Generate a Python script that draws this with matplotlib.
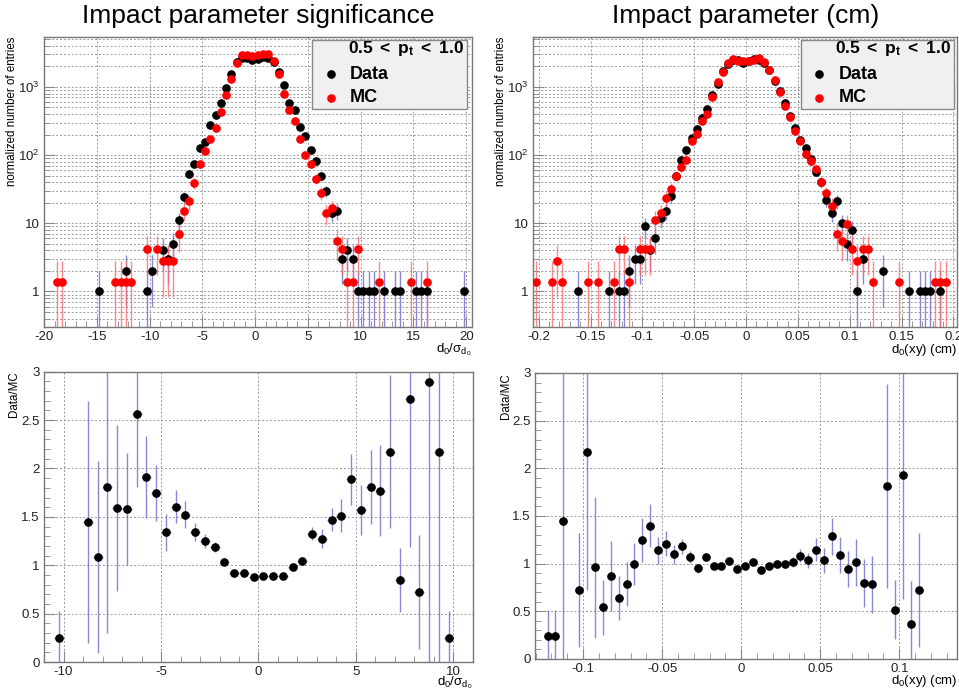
import numpy as np
import matplotlib
matplotlib.use('Agg')
import matplotlib.pyplot as plt
from matplotlib.ticker import MultipleLocator, FixedLocator, FixedFormatter, LogLocator, NullFormatter

plt.rcParams['font.family'] = ['Liberation Sans', 'DejaVu Sans']
plt.rcParams['mathtext.fontset'] = 'custom'
plt.rcParams['mathtext.rm'] = 'Liberation Sans'
plt.rcParams['mathtext.it'] = 'Liberation Sans'
plt.rcParams['mathtext.bf'] = 'Liberation Sans:bold'

# MC weight per entry (MC histogram scaled to data)
MC_W = 1.39

# --- d0 significance ---
sig_data_x = [-14.75, -12.25, -10.25, -9.75, -8.75, -8.25, -7.75, -7.25, -6.75, -6.25,
              -5.75, -5.25, -4.75, -4.25, -3.75, -3.25, -2.75, -2.25, -1.75, -1.25,
              -0.75, -0.25, 0.25, 0.75, 1.25, 1.75, 2.25, 2.75, 3.25, 3.75,
              4.25, 4.75, 5.25, 5.75, 6.25, 6.75, 7.25, 7.75, 8.25, 8.75,
              9.25, 9.75, 10.25, 10.75, 11.25, 12.25, 13.25, 13.75, 15.25, 15.75,
              16.25, 19.75]
sig_data_y = [1, 2, 1, 2, 4, 3, 5, 11, 24, 53,
              75, 129, 155, 279, 387, 575, 955, 1570, 2300, 2700,
              2675, 2490, 2595, 2755, 2700, 2337, 1664, 1059, 583, 455,
              259, 189, 120, 81, 50, 30, 14, 15, 3, 4,
              3, 1, 1, 1, 1, 1, 1, 1, 1, 1,
              1, 1]
sig_mc_x = [-18.75, -18.25, -13.25, -12.75, -12.25, -11.75, -10.25, -9.25, -8.75, -8.25,
            -7.75, -7.25, -6.75, -6.25, -5.75, -5.25, -4.75, -4.25, -3.75, -3.25,
            -2.75, -2.25, -1.75, -1.25, -0.75, -0.25, 0.25, 0.75, 1.25, 1.75,
            2.25, 2.75, 3.25, 3.75, 4.25, 4.75, 5.25, 5.75, 6.25, 6.75,
            7.25, 7.75, 8.25, 8.75, 9.25, 9.75, 11.75, 14.75, 16.25]
sig_mc_y = [1.39, 1.39, 1.39, 1.39, 1.39, 1.39, 4.17, 4.17, 2.78, 2.78,
            2.78, 6.95, 15.3, 21, 39, 75, 115, 175, 253, 430,
            755, 1312, 2280, 2923, 2923, 2850, 2923, 3090, 3020, 2385,
            1570, 800, 455, 313, 175, 99, 75, 45, 28, 13.9,
            16.7, 5.56, 4.17, 1.39, 1.39, 4.17, 1.39, 1.39, 1.39]

sig_ratio_x = [-10.25, -8.75, -8.25, -7.75, -7.25, -6.75, -6.25, -5.75, -5.25, -4.75,
               -4.25, -3.75, -3.25, -2.75, -2.25, -1.75, -1.25, -0.75, -0.25, 0.25,
               0.75, 1.25, 1.75, 2.25, 2.75, 3.25, 3.75, 4.25, 4.75, 5.25,
               5.75, 6.25, 6.75, 7.25, 7.75, 8.25, 8.75, 9.25, 9.75]
sig_ratio_y = [0.244, 1.448, 1.087, 1.81, 1.593, 1.579, 2.56, 1.913, 1.748, 1.342,
               1.603, 1.521, 1.342, 1.252, 1.187, 1.029, 0.915, 0.915, 0.874, 0.888,
               0.891, 0.894, 0.98, 1.046, 1.328, 1.276, 1.472, 1.514, 1.889, 1.569,
               1.81, 1.772, 2.171, 0.85, 2.714, 0.722, 2.893, 2.171, 0.244]
sig_ratio_err = [0.28, 1.25, 0.99, 1.51, 0.86, 0.58, 0.75, 0.42, 0.29, 0.19,
                 0.17, 0.14, 0.095, 0.07, 0.05, 0.03, 0.02, 0.02, 0.02, 0.02,
                 0.02, 0.02, 0.03, 0.04, 0.07, 0.095, 0.12, 0.17, 0.265, 0.26,
                 0.38, 0.47, 0.79, 0.33, 1.53, 0.59, 2.9, 2.2, 0.28]

# --- d0(xy) in cm ---
ip_data_x = [-0.1625, -0.1325, -0.1225, -0.1175, -0.1125, -0.1075, -0.1025, -0.0975, -0.0925, -0.0875,
             -0.0825, -0.0775, -0.0725, -0.0675, -0.0625, -0.0575, -0.0525, -0.0475, -0.0425, -0.0375,
             -0.0325, -0.0275, -0.0225, -0.0175, -0.0125, -0.0075, -0.0025, 0.0025, 0.0075, 0.0125,
             0.0175, 0.0225, 0.0275, 0.0325, 0.0375, 0.0425, 0.0475, 0.0525, 0.0575, 0.0625,
             0.0675, 0.0725, 0.0775, 0.0825, 0.0875, 0.0925, 0.0975, 0.1025, 0.1075, 0.1125,
             0.1325, 0.1575, 0.1675, 0.1725, 0.1775, 0.1875]
ip_data_y = [1, 1, 1, 1, 2, 3, 3, 9, 4, 6,
             12, 15, 25, 50, 84, 118, 180, 243, 351, 473,
             757, 1120, 1740, 2200, 2515, 2490, 2265, 2380, 2530, 2490,
             2250, 1743, 1240, 858, 573, 370, 251, 166, 129, 89,
             57, 40, 22, 14, 21, 10, 5, 8, 1, 3,
             2, 1, 1, 1, 1, 1]
ip_mc_x = [-0.2025, -0.1875, -0.1825, -0.1775, -0.1525, -0.1425, -0.1275, -0.1225, -0.1175, -0.1125,
           -0.1025, -0.0975, -0.0925, -0.0875, -0.0825, -0.0775, -0.0725, -0.0675, -0.0625, -0.0575,
           -0.0525, -0.0475, -0.0425, -0.0375, -0.0325, -0.0275, -0.0225, -0.0175, -0.0125, -0.0075,
           -0.0025, 0.0025, 0.0075, 0.0125, 0.0175, 0.0225, 0.0275, 0.0325, 0.0375, 0.0425,
           0.0475, 0.0525, 0.0575, 0.0625, 0.0675, 0.0725, 0.0775, 0.0825, 0.0875, 0.0925,
           0.0975, 0.1025, 0.1075, 0.1125, 0.1175, 0.1225, 0.1475, 0.1825, 0.1875, 0.1925]
ip_mc_y = [1.39, 1.39, 2.78, 1.39, 1.39, 1.39, 1.39, 4.17, 4.17, 1.39,
           4.17, 4.17, 4.17, 11.1, 13.9, 23.6, 32, 50, 66, 84,
           159, 203, 321, 401, 700, 1180, 1650, 2250, 2575, 2420,
           2385, 2433, 2500, 2660, 2306, 1743, 1248, 845, 530, 358,
           222, 161, 102, 81, 62, 40, 27.8, 18.1, 7.0, 5.56,
           9.7, 4.17, 2.78, 4.17, 4.17, 1.39, 1.39, 1.39, 1.39, 1.39]

ip_ratio_x = [-0.1225, -0.1175, -0.1125, -0.1025, -0.0975, -0.0925, -0.0875, -0.0825, -0.0775, -0.0725,
              -0.0675, -0.0625, -0.0575, -0.0525, -0.0475, -0.0425, -0.0375, -0.0325, -0.0275, -0.0225,
              -0.0175, -0.0125, -0.0075, -0.0025, 0.0025, 0.0075, 0.0125, 0.0175, 0.0225, 0.0275,
              0.0325, 0.0375, 0.0425, 0.0475, 0.0525, 0.0575, 0.0625, 0.0675, 0.0725, 0.0775,
              0.0825, 0.0925, 0.0975, 0.1025, 0.1075, 0.1125]
ip_ratio_y = [0.245, 0.245, 1.446, 0.725, 2.17, 0.963, 0.543, 0.872, 0.637, 0.784,
              0.994, 1.246, 1.397, 1.141, 1.211, 1.099, 1.18, 1.068, 0.952, 1.068,
              0.977, 0.977, 1.029, 0.949, 0.977, 1.012, 0.935, 0.977, 1.0, 0.994,
              1.015, 1.082, 1.033, 1.145, 1.033, 1.285, 1.092, 0.945, 1.012, 0.80,
              0.784, 1.81, 0.518, 1.93, 0.368, 0.725]
ip_ratio_err = [0.27, 0.27, 1.6, 0.6, 1.45, 0.74, 0.29, 0.37, 0.23, 0.23,
                0.22, 0.23, 0.225, 0.14, 0.13, 0.10, 0.08, 0.06, 0.045, 0.04,
                0.03, 0.03, 0.03, 0.025, 0.025, 0.025, 0.025, 0.03, 0.03, 0.035,
                0.05, 0.07, 0.08, 0.12, 0.13, 0.19, 0.19, 0.19, 0.25, 0.25,
                0.30, 1.07, 0.31, 1.3, 0.45, 0.6]

DATA_ERR = '#6a6acc'
MC_ERR = '#ff6a6a'
FRAME = '#777777'
GRID = dict(color='#9a9a9a', linestyle=(0, (2, 2)), linewidth=0.7)


def root_style(ax):
    for s in ax.spines.values():
        s.set_color(FRAME)
        s.set_linewidth(1.0)
    ax.tick_params(which='both', direction='in', top=False, right=False,
                   color='#888888', labelsize=9.5, labelcolor='#222222')
    ax.tick_params(which='major', length=8, pad=3)
    ax.tick_params(which='minor', length=4)
    ax.set_axisbelow(True)


def points(ax, x, y, err, xerr, color, ecolor, log=False):
    x = np.array(x)
    y = np.array(y, dtype=float)
    err = np.array(err, dtype=float)
    lo = np.minimum(err, y * 0.999) if log else err
    ax.errorbar(x, y, yerr=[lo, err], xerr=xerr, fmt='none', ecolor=ecolor,
                elinewidth=1.0, alpha=0.8, zorder=2)
    ax.plot(x, y, 'o', color=color, ms=5.2, mec=color, zorder=3)


def top_panel(ax, dx, dy, mx, my, half, xlim, xmajor, xminor, xlabel, leg_x, ylab_x):
    dy = np.array(dy, dtype=float)
    my = np.array(my, dtype=float)
    points(ax, dx, dy, np.sqrt(dy), half, 'black', DATA_ERR, log=True)
    points(ax, mx, my, np.sqrt(my * MC_W), half, '#ff0000', MC_ERR, log=True)
    ax.set_yscale('log')
    ax.set_ylim(0.3, 5400)
    ax.set_xlim(*xlim)
    ax.xaxis.set_major_locator(MultipleLocator(xmajor))
    ax.xaxis.set_minor_locator(MultipleLocator(xminor))
    ax.yaxis.set_major_locator(FixedLocator([1, 10, 100, 1000]))
    ax.yaxis.set_major_formatter(FixedFormatter(['1', '10', '10$^{2}$', '10$^{3}$']))
    ax.yaxis.set_minor_locator(LogLocator(base=10, subs=np.arange(2, 10)))
    ax.yaxis.set_minor_formatter(NullFormatter())
    ax.grid(True, which='major', axis='x', **GRID)
    ax.grid(True, which='both', axis='y', **GRID)
    root_style(ax)
    ax.set_ylabel('normalized number of entries', fontsize=8.3, loc='top')
    ax.yaxis.set_label_coords(ylab_x, 1.0)
    ax.text(1.0, -0.05, xlabel, transform=ax.transAxes, ha='right', va='top', fontsize=9.5)

    # legend box
    ax.add_patch(plt.Rectangle((leg_x, 0.752), 0.362, 0.238, transform=ax.transAxes,
                               facecolor='#f0f0f0', edgecolor='#888888', lw=1.0, zorder=5))
    ax.text(leg_x + 0.355, 0.962, r'$\mathbf{0.5\ <\ p_{t}\ <\ 1.0}$', transform=ax.transAxes,
            ha='right', va='center', fontsize=12.5, zorder=6)
    ax.plot([leg_x + 0.044], [0.872], 'o', color='black', ms=5.2, transform=ax.transAxes, zorder=6)
    ax.plot([leg_x + 0.044], [0.79], 'o', color='#ff0000', ms=5.2, transform=ax.transAxes, zorder=6)
    ax.text(leg_x + 0.089, 0.872, 'Data', transform=ax.transAxes, ha='left', va='center',
            fontsize=13, fontweight='bold', zorder=6)
    ax.text(leg_x + 0.089, 0.79, 'MC', transform=ax.transAxes, ha='left', va='center',
            fontsize=13, fontweight='bold', zorder=6)


def ratio_panel(ax, x, y, err, half, xlim, xmajor, xminor, xlabel, ylab_x, xlab_y):
    points(ax, x, y, err, half, 'black', DATA_ERR)
    ax.set_xlim(*xlim)
    ax.set_ylim(0, 3)
    ax.xaxis.set_major_locator(MultipleLocator(xmajor))
    ax.xaxis.set_minor_locator(MultipleLocator(xminor))
    ax.yaxis.set_minor_locator(MultipleLocator(0.1))
    ax.yaxis.set_major_locator(FixedLocator([0, 0.5, 1, 1.5, 2, 2.5, 3]))
    ax.yaxis.set_major_formatter(FixedFormatter(['0', '0.5', '1', '1.5', '2', '2.5', '3']))
    ax.grid(True, which='major', **GRID)
    root_style(ax)
    ax.set_ylabel('Data/MC', fontsize=8.3, loc='top')
    ax.yaxis.set_label_coords(ylab_x, 1.0)
    ax.text(1.0, xlab_y, xlabel, transform=ax.transAxes, ha='right', va='center', fontsize=9.5)


fig = plt.figure(figsize=(9.59, 6.93), dpi=100)

ax1 = fig.add_axes([0.0459, 0.5281, 0.4463, 0.4185])
ax2 = fig.add_axes([0.5558, 0.5281, 0.4421, 0.4185])
ax3 = fig.add_axes([0.0459, 0.0447, 0.4473, 0.4189])
ax4 = fig.add_axes([0.5579, 0.0491, 0.4400, 0.4127])

top_panel(ax1, sig_data_x, sig_data_y, sig_mc_x, sig_mc_y, 0.25, (-20, 20.55), 5, 1,
          r'$\mathrm{d_{0}/\sigma_{d_{0}}}$', 0.626, -0.061)
top_panel(ax2, ip_data_x, ip_data_y, ip_mc_x, ip_mc_y, 0.0025, (-0.2055, 0.2035), 0.05, 0.01,
          r'$\mathrm{d_{0}(xy)\ (cm)}$', 0.631, -0.061)
ax1.set_xticks([-20, -15, -10, -5, 0, 5, 10, 15, 20])
ax1.set_xticklabels(['-20', '-15', '-10', '-5', '0', '5', '10', '15', '20'])
ax2.set_xticks([-0.2, -0.15, -0.1, -0.05, 0, 0.05, 0.1, 0.15, 0.2])
ax2.set_xticklabels(['-0.2', '-0.15', '-0.1', '-0.05', '0', '0.05', '0.1', '0.15', '0.2'])

ratio_panel(ax3, sig_ratio_x, sig_ratio_y, sig_ratio_err, 0.25, (-11, 11), 5, 1,
            r'$\mathrm{d_{0}/\sigma_{d_{0}}}$', -0.056, -0.071)
ratio_panel(ax4, ip_ratio_x, ip_ratio_y, ip_ratio_err, 0.0025, (-0.1304, 0.1365), 0.05, 0.01,
            r'$\mathrm{d_{0}(xy)\ (cm)}$', -0.054, -0.077)
ax3.set_xticks([-10, -5, 0, 5, 10])
ax3.set_xticklabels(['-10', '-5', '0', '5', '10'])
ax4.set_xticks([-0.1, -0.05, 0, 0.05, 0.1])
ax4.set_xticklabels(['-0.1', '-0.05', '0', '0.05', '0.1'])

fig.text(0.269, 0.977, 'Impact parameter significance', ha='center', va='center', fontsize=19)
fig.text(0.777, 0.977, 'Impact parameter (cm)', ha='center', va='center', fontsize=19)

fig.savefig('out.png', dpi=100)
